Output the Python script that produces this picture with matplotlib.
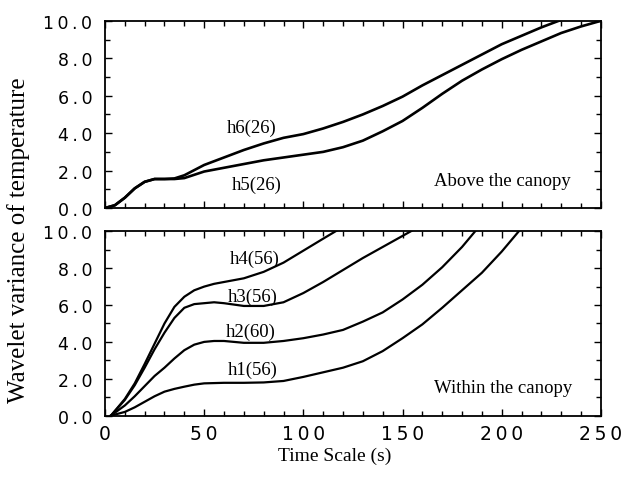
import matplotlib
matplotlib.use("Agg")
import matplotlib.pyplot as plt
from matplotlib.ticker import MultipleLocator, FuncFormatter

# above the canopy (top panel)
t_h6 = [0, 5, 10, 15, 20, 25, 30, 35, 40, 50, 60, 70, 80, 90, 100, 110, 120, 130,
        140, 150, 160, 170, 180, 190, 200, 210, 220, 230]
h6 = [0, 0.15, 0.55, 1.05, 1.4, 1.55, 1.55, 1.58, 1.75, 2.3, 2.7, 3.1, 3.45, 3.75,
      3.95, 4.25, 4.6, 5.0, 5.45, 5.95, 6.55, 7.1, 7.65, 8.2, 8.75, 9.2, 9.65, 10.05]
t_h5 = [0, 5, 10, 15, 20, 25, 30, 35, 40, 50, 60, 70, 80, 90, 100, 110, 120, 130,
        140, 150, 160, 170, 180, 190, 200, 210, 220, 230, 240, 250]
h5 = [0, 0.15, 0.55, 1.05, 1.4, 1.55, 1.55, 1.55, 1.6, 1.95, 2.15, 2.35, 2.55, 2.7,
      2.85, 3.0, 3.25, 3.6, 4.1, 4.65, 5.35, 6.1, 6.8, 7.4, 7.95, 8.45, 8.9, 9.35,
      9.7, 10.0]

# within the canopy (bottom panel)
t_h4 = [3, 10, 15, 20, 25, 30, 35, 40, 45, 50, 55, 60, 70, 80, 90, 100, 110, 117]
h4 = [0, 0.9, 1.75, 2.8, 3.9, 5.0, 5.9, 6.45, 6.8, 7.0, 7.15, 7.25, 7.45, 7.8, 8.3,
      8.95, 9.6, 10.05]
t_h3 = [3, 10, 15, 20, 25, 30, 35, 40, 45, 50, 55, 60, 70, 80, 90, 100, 110, 120,
        130, 140, 150, 155]
h3 = [0, 0.85, 1.65, 2.6, 3.6, 4.5, 5.3, 5.85, 6.05, 6.1, 6.15, 6.1, 5.95, 5.95,
      6.15, 6.65, 7.25, 7.9, 8.55, 9.15, 9.75, 10.05]
t_h2 = [3, 10, 15, 20, 25, 30, 35, 40, 45, 50, 55, 60, 70, 80, 90, 100, 110, 120,
        130, 140, 150, 160, 170, 180, 187]
h2 = [0, 0.55, 1.05, 1.6, 2.15, 2.6, 3.1, 3.55, 3.85, 4.0, 4.05, 4.05, 3.95, 3.95,
      4.05, 4.2, 4.4, 4.65, 5.1, 5.6, 6.3, 7.1, 8.05, 9.15, 10.05]
t_h1 = [3, 10, 15, 20, 25, 30, 35, 40, 45, 50, 60, 70, 80, 90, 100, 110, 120, 130,
        140, 150, 160, 170, 180, 190, 200, 209]
h1 = [0, 0.2, 0.45, 0.75, 1.05, 1.3, 1.45, 1.57, 1.68, 1.75, 1.78, 1.78, 1.8, 1.88,
      2.1, 2.35, 2.6, 2.95, 3.5, 4.2, 4.95, 5.85, 6.8, 7.75, 8.9, 10.05]

serif = "Liberation Serif"
sans = "DejaVu Sans"


def spaced(s):
    # wide letter spacing like the original tick labels
    return "\u2009".join(s)


fig = plt.figure(figsize=(6.23, 4.85), dpi=100)
ax1 = fig.add_axes([0.1685, 0.569, 0.796, 0.386])
ax2 = fig.add_axes([0.1685, 0.141, 0.796, 0.380])

for ax in (ax1, ax2):
    ax.set_xlim(0, 250)
    ax.set_ylim(0, 10)
    ax.xaxis.set_major_locator(MultipleLocator(50))
    ax.xaxis.set_minor_locator(MultipleLocator(10))
    ax.yaxis.set_major_locator(MultipleLocator(2))
    ax.yaxis.set_minor_locator(MultipleLocator(1))
    ax.yaxis.set_major_formatter(FuncFormatter(lambda v, p: spaced("%.1f" % v)))
    ax.xaxis.set_major_formatter(FuncFormatter(lambda v, p: spaced("%d" % v)))
    ax.tick_params(which="both", direction="in", top=True, right=True, width=1.0)
    ax.tick_params(which="major", length=5)
    ax.tick_params(which="minor", length=3.5)
    ax.tick_params(axis="y", which="major", pad=9, labelsize=12.5)
    ax.tick_params(axis="x", which="major", pad=6, labelsize=13.5)
    for lab in ax.get_xticklabels() + ax.get_yticklabels():
        lab.set_family(sans)
    for s in ax.spines.values():
        s.set_linewidth(1.3)

ax1.tick_params(axis="x", labelbottom=False)

ax1.plot(t_h6, h6, color="black", lw=1.9)
ax1.plot(t_h5, h5, color="black", lw=1.9)
for t, v in [(t_h4, h4), (t_h3, h3), (t_h2, h2), (t_h1, h1)]:
    ax2.plot(t, v, color="black", lw=1.6)

fs = 13.5
ax1.text(74, 4.3, "h6(26)", family=serif, fontsize=fs, ha="center", va="center")
ax1.text(76.5, 1.28, "h5(26)", family=serif, fontsize=fs, ha="center", va="center")
ax1.text(235, 1.46, "Above the canopy", family=serif, fontsize=fs, ha="right", va="center")

ax2.text(75.3, 8.53, "h4(56)", family=serif, fontsize=fs, ha="center", va="center")
ax2.text(74.5, 6.47, "h3(56)", family=serif, fontsize=fs, ha="center", va="center")
ax2.text(73.5, 4.55, "h2(60)", family=serif, fontsize=fs, ha="center", va="center")
ax2.text(74.3, 2.49, "h1(56)", family=serif, fontsize=fs, ha="center", va="center")
ax2.text(235.5, 1.53, "Within the canopy", family=serif, fontsize=fs, ha="right", va="center")

fig.text(19 / 623, 1 - 240 / 485, "Wavelet variance of temperature", family=serif,
         fontsize=18, rotation=90, ha="center", va="center")
fig.text(335 / 623, 1 - 456 / 485, "Time Scale (s)", family=serif, fontsize=14,
         ha="center", va="center")

fig.savefig("out.png", dpi=100)
